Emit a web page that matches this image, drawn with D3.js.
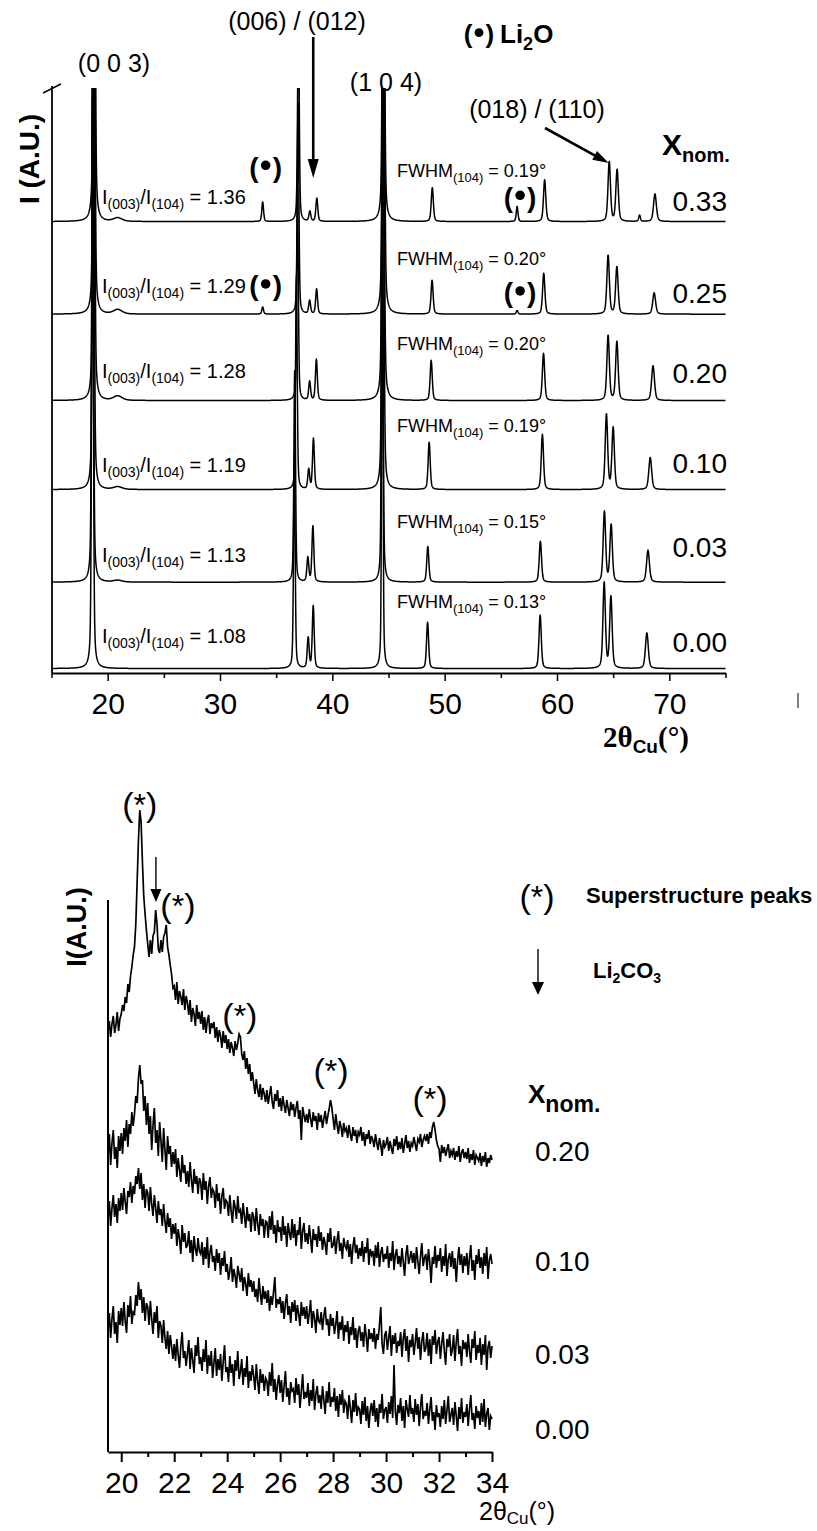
<!DOCTYPE html>
<html>
<head>
<meta charset="utf-8">
<script src="https://cdn.jsdelivr.net/npm/d3@7.9.0/dist/d3.min.js"></script>
<style>
  html, body { margin: 0; padding: 0; background: #fff; }
  svg { display: block; }
  text { font-family: "Liberation Sans", Arial, sans-serif; fill: #000; white-space: pre; }
</style>
</head>
<body>
<div id="chart"></div>
<script>
const SANS = '"Liberation Sans", Arial, sans-serif';
const SERIF = '"Liberation Serif", "Times New Roman", serif';

// ---------- top panel: wide XRD scans, stacked ----------
const topSamples = ['0.33', '0.25', '0.20', '0.10', '0.03', '0.00'];
const topOffsets = [5.07, 4.03, 3.06, 2.06, 1.02, 0.05];       // stacking offset (a.u.)
const ratio003 = [1.36, 1.29, 1.28, 1.19, 1.13, 1.08];           // I(003)/I(104)
const fwhm104 = [0.19, 0.20, 0.20, 0.19, 0.15, 0.13];            // degrees
const i104 = 6.0;                                                // height of (104), a.u.
const reflections = ['003', '101', '006', '012', '104', '015', '107', '018', '110', '113'];
const reflWidth = [0.17, 0.17, 0.2, 0.2, null, 0.22, 0.24, 0.26, 0.26, 0.3];
const peakPos = [
  [18.80, 36.98, 38.00, 38.62, 44.55, 48.90, 58.90, 64.65, 65.35, 68.72],
  [18.78, 36.95, 37.98, 38.60, 44.55, 48.88, 58.82, 64.55, 65.33, 68.65],
  [18.76, 36.90, 37.98, 38.58, 44.52, 48.80, 58.80, 64.55, 65.33, 68.55],
  [18.72, 36.80, 37.90, 38.32, 44.50, 48.62, 58.70, 64.40, 65.00, 68.30],
  [18.66, 36.65, 37.82, 38.27, 44.45, 48.50, 58.52, 64.22, 64.82, 68.10],
  [18.65, 36.62, 37.85, 38.30, 44.45, 48.48, 58.50, 64.20, 64.80, 68.00],
];
// null -> (003) from the ratio, (104) = i104
const peakHeight = [
  [null, 2.4, 0.11, 0.26, null, 0.38, 0.47, 0.67, 0.58, 0.31],
  [null, 2.4, 0.15, 0.28, null, 0.38, 0.46, 0.66, 0.53, 0.24],
  [null, 2.4, 0.21, 0.46, null, 0.45, 0.53, 0.73, 0.66, 0.39],
  [null, 2.4, 0.22, 0.57, null, 0.53, 0.62, 0.84, 0.69, 0.36],
  [null, 2.4, 0.27, 0.63, null, 0.40, 0.46, 0.79, 0.64, 0.36],
  [null, 2.4, 0.34, 0.70, null, 0.52, 0.60, 0.96, 0.80, 0.40],
];
const li2oPos = [33.8, 56.45, 67.35];
const li2oHeight = [
  [0.22, 0.17, 0.07], [0.08, 0.04, 0], [0, 0, 0], [0, 0, 0], [0, 0, 0], [0, 0, 0],
];
const humpPos = 20.9;
const humpHeight = [0.04, 0.05, 0.05, 0.03, 0.02, 0];

// ---------- bottom panel: slow scans 19.5-34 deg, step 0.05 ----------
const bottomSamples = ['0.20', '0.10', '0.03', '0.00'];
const bottomStart = 19.5, bottomStep = 0.05;
const scan020 = [
422,431,415,428,436,419,427,440,421,433,
438,447,441,455,449,468,460,476,485,497,
505,528,570,612,642,630,590,556,538,522,
508,495,512,498,516,520,542,528,503,499,
512,500,515,519,527,505,497,487,478,464,
466,452,470,448,461,455,447,463,442,456,
449,437,452,430,444,438,426,447,433,440,
428,441,422,435,419,431,437,418,429,424,
430,414,425,410,422,416,404,421,409,417,
403,413,399,410,404,396,411,402,409,418,
415,398,392,401,383,394,378,388,371,380,
369,358,373,362,355,368,352,364,358,350,
362,348,357,366,350,343,358,351,362,345,
354,341,356,347,339,352,344,336,350,342,
348,335,344,351,333,342,312,345,337,330,
338,329,343,333,325,340,331,336,322,339,
330,337,324,333,341,328,336,343,352,345,
333,322,338,327,318,331,325,315,329,321,
324,314,327,318,311,325,316,322,309,320,
317,325,311,320,306,318,313,322,308,316,
312,305,318,309,302,314,307,296,312,305,
308,315,301,311,304,298,313,306,316,302,
310,303,314,299,308,317,304,311,300,309,
306,315,308,301,313,310,318,305,312,316,
311,318,308,320,314,325,330,322,312,306,
303,290,307,299,305,296,302,308,294,301,
297,304,292,301,295,306,290,299,303,294,
300,293,304,289,298,292,302,287,297,294,
291,299,286,296,290,300,285,294,289,297,
292];
const scan010 = [
296,318,287,309,322,293,305,284,316,301,
319,298,324,311,332,305,328,318,340,326,
338,356,349,374,387,368,372,341,356,327,
349,318,336,302,327,344,309,322,296,330,
311,290,324,302,282,316,298,306,285,300,
288,303,275,294,282,270,297,279,287,268,
281,265,290,272,259,283,268,276,258,274,
270,252,279,262,271,248,266,275,254,263,
260,244,268,251,259,238,256,264,243,252,
250,236,257,241,229,252,245,233,256,239,
242,228,249,236,224,245,231,238,220,240,
235,221,244,228,217,238,226,233,214,231,
230,214,236,222,241,218,227,209,232,220,
225,211,236,217,226,205,229,219,212,233,
214,228,206,222,217,235,203,221,229,210,
219,208,227,214,199,223,212,218,205,226,
211,220,202,215,208,197,219,210,224,204,
207,216,198,212,221,201,209,193,214,206,
203,212,195,208,188,206,215,199,207,193,
204,196,211,190,205,199,214,187,203,197,
201,186,207,194,210,185,199,205,190,198,
193,206,184,199,191,211,182,197,203,188,
196,185,204,190,176,198,207,188,194,201,
189,199,183,205,191,178,196,209,186,194,
198,182,203,190,169,195,188,206,184,197,
191,204,180,196,186,208,176,193,199,185,
201,183,194,170,191,205,187,198,179,196,
186,199,177,194,207,181,192,172,197,188,
203,184,195,178,199,186,205,173,192,198,
188];
const scan003 = [
232,251,226,244,257,235,248,229,254,241,
259,242,264,250,238,261,255,270,249,266,
258,276,268,284,263,279,252,268,244,263,
259,241,265,248,236,257,244,229,251,237,
243,226,248,231,219,239,225,234,213,228,
218,229,206,223,213,198,227,210,219,204,
207,221,199,212,190,216,203,196,214,201,
198,210,187,205,193,215,184,200,207,190,
196,181,203,189,199,177,194,186,201,180,
188,172,181,195,170,183,176,164,186,178,
170,184,161,175,168,156,179,165,172,160,
171,155,163,150,174,159,147,166,153,161,
149,162,141,156,147,160,175,144,153,148,
155,139,151,133,149,158,137,146,129,150,
140,152,131,147,138,126,150,136,145,133,
146,128,139,152,124,141,134,119,143,131,
129,140,122,136,145,127,133,116,138,126,
134,118,128,141,113,130,122,136,111,127,
120,131,108,125,117,135,112,124,104,121,
126,111,120,105,128,116,100,123,113,119,
110,124,103,118,112,127,145,108,98,117,
121,102,114,126,96,117,108,119,99,111,
106,120,95,114,123,101,116,90,112,105,
118,97,109,124,103,115,92,111,120,100,
104,119,96,113,88,116,107,122,98,110,
115,93,108,120,101,87,113,105,118,96,
102,117,91,110,123,98,106,86,112,103,
110,95,118,101,89,113,104,121,92,107,
99,114,87,108,97,117,82,105,111,94,
106];
const scan000 = [
121,139,114,133,146,118,130,109,141,127,
144,126,150,131,119,147,135,156,128,140,
138,157,146,170,152,163,139,155,131,149,
145,127,151,133,118,140,129,146,114,131,
126,109,132,114,103,121,98,117,106,93,
108,91,113,97,84,106,120,94,101,86,
99,112,83,104,92,79,107,96,115,88,
95,81,103,90,112,78,97,86,101,74,
89,104,76,93,82,98,71,90,107,80,
85,70,96,79,88,66,92,81,101,73,
80,93,67,84,75,96,64,81,71,87,
76,62,88,71,58,83,69,78,61,74,
71,56,80,66,89,60,73,52,68,77,
59,72,50,66,81,55,64,47,70,61,
63,49,74,57,68,44,61,78,53,60,
54,69,46,62,51,73,42,58,66,49,
57,43,66,52,38,61,49,70,45,55,
50,64,41,56,35,58,47,62,39,51,
48,33,57,44,29,52,40,59,36,45,
43,28,51,37,55,31,46,24,41,49,
36,52,30,44,25,48,39,58,33,42,
45,29,50,38,56,34,87,41,27,47,
39,54,31,46,24,52,43,35,57,38,
44,30,53,37,48,26,45,58,33,41,
36,49,28,43,55,31,40,22,47,35,
39,25,46,33,52,28,42,56,30,37,
44,27,50,36,21,45,33,54,29,40,
35,48,26,43,57,32,39,23,46,34,
41,27,49,30,53,25,38,44,22,36,
33];
const bottomScans = [scan020, scan010, scan003, scan000];
const superPeaks = [20.7, 22.14, 24.48, 27.92, 31.66];   // (*) marks
const li2co3Peak = 21.31;

// label layout (baselines, px)
const topValueY = [211, 303, 383, 473, 557, 652];
const topRatioY = [204, 293, 378, 472, 562, 643];
const topFwhmY = [177, 265, 350, 432, 528, 608];
const bottomValueY = [1161, 1271, 1364, 1439];
const superLabelY = [816, 917, 1027, 1082, 1110];

// ---------- svg ----------
const width = 817, height = 1531;
const svg = d3.select('#chart').append('svg')
  .attr('width', width).attr('height', height)
  .attr('viewBox', `0 0 ${width} ${height}`);
svg.append('rect').attr('width', width).attr('height', height).attr('fill', '#fff');

function richText(parent, x, y, parts, anchor) {
  const t = parent.append('text').attr('x', x).attr('y', y)
    .attr('text-anchor', anchor || 'start');
  let shift = 0;
  for (const p of parts) {
    const s = p.shift || 0;
    t.append('tspan')
      .attr('dy', s - shift)
      .attr('font-size', p.size)
      .attr('font-weight', p.bold ? 'bold' : 'normal')
      .attr('font-family', p.serif ? SERIF : SANS)
      .text(p.text);
    shift = s;
  }
  return t;
}

function arrow(parent, x1, y1, x2, y2, headLen, headW, sw) {
  const dx = x2 - x1, dy = y2 - y1, L = Math.hypot(dx, dy);
  const ux = dx / L, uy = dy / L;
  const bx = x2 - ux * headLen, by = y2 - uy * headLen;
  parent.append('line').attr('x1', x1).attr('y1', y1).attr('x2', bx + ux).attr('y2', by + uy)
    .attr('stroke', '#000').attr('stroke-width', sw);
  parent.append('path')
    .attr('d', `M${x2},${y2}L${bx - uy * headW / 2},${by + ux * headW / 2}L${bx + uy * headW / 2},${by - ux * headW / 2}Z`)
    .attr('fill', '#000');
}

// "(•)" marker: bold serif parentheses with a big dot
function dotMark(parent, cx, baseline, size) {
  parent.append('text').attr('x', cx).attr('y', baseline).attr('text-anchor', 'middle')
    .attr('font-family', SERIF).attr('font-weight', 'bold').attr('font-size', size)
    .text('(\u2002)');
  parent.append('circle').attr('cx', cx).attr('cy', baseline - size * 0.4)
    .attr('r', size * 0.17).attr('fill', '#000');
}

// ================= TOP PANEL =================
const xTop = d3.scaleLinear().domain([15, 75]).range([51.5, 725.5]);
const yTop = d3.scaleLinear().domain([0, 6.57]).range([673, 88]);

const eta = 0.4;
function pv(t, x0, h, w) {
  const u = (t - x0) / w;
  return h * (eta / (1 + 4 * u * u) + (1 - eta) * Math.exp(-4 * Math.LN2 * u * u));
}

const grid = d3.range(15, 75.0001, 0.02);
const topPatterns = topSamples.map((s, i) => {
  const peaks = reflections.map((r, j) => {
    let h = peakHeight[i][j];
    if (r === '104') h = i104;
    if (r === '003') h = i104 * ratio003[i];
    const w = r === '104' ? fwhm104[i] : reflWidth[j];
    return { pos: peakPos[i][j], h, w };
  });
  li2oPos.forEach((p, k) => { if (li2oHeight[i][k] > 0) peaks.push({ pos: p, h: li2oHeight[i][k], w: 0.18 }); });
  if (humpHeight[i] > 0) peaks.push({ pos: humpPos, h: humpHeight[i], w: 0.9 });
  return grid.map(t => [t, topOffsets[i] + d3.sum(peaks, p => pv(t, p.pos, p.h, p.w))]);
});

svg.append('clipPath').attr('id', 'clipTop')
  .append('rect').attr('x', 50).attr('y', 88).attr('width', 680).attr('height', 600);

const lineTop = d3.line().x(d => xTop(d[0])).y(d => yTop(d[1]));
svg.append('g').attr('clip-path', 'url(#clipTop)')
  .selectAll('path').data(topPatterns).join('path')
  .attr('d', lineTop)
  .attr('fill', 'none').attr('stroke', '#000').attr('stroke-width', 1.5)
  .attr('stroke-linejoin', 'round');

// axes
const gxTop = svg.append('g').attr('transform', `translate(0,${yTop(0)})`)
  .call(d3.axisBottom(xTop).tickValues(d3.range(20, 71, 10)).tickSize(8)
    .tickSizeOuter(0).tickPadding(12).tickFormat(d3.format('d')))
  .attr('font-family', SANS).attr('font-size', 30);
gxTop.select('.domain').attr('stroke-width', 2);
gxTop.selectAll('.tick line').attr('stroke-width', 1.5);
gxTop.selectAll('.tick text').attr('fill', '#000');
const gxTopMinor = svg.append('g').attr('transform', `translate(0,${yTop(0)})`)
  .call(d3.axisBottom(xTop).tickValues(d3.range(15, 76, 10)).tickSize(5).tickFormat(''));
gxTopMinor.select('.domain').remove();
gxTopMinor.selectAll('.tick line').attr('stroke-width', 1.5);

svg.append('line').attr('x1', 52).attr('x2', 52).attr('y1', 86).attr('y2', yTop(0))
  .attr('stroke', '#000').attr('stroke-width', 1.8);
svg.append('path').attr('d', 'M43,93L61,84').attr('stroke', '#000').attr('stroke-width', 1.5).attr('fill', 'none');

svg.append('text').attr('transform', 'translate(39,159) rotate(-90)')
  .attr('text-anchor', 'middle').attr('font-size', 28).attr('font-weight', 'bold')
  .text('I (A.U.)');

richText(svg, 603, 747, [
  { text: '2θ', size: 29, bold: true, serif: true },
  { text: 'Cu', size: 19, bold: true, shift: 6 },
  { text: '(°)', size: 29, bold: true, serif: true, shift: 0 },
]);

// hkl annotations
svg.append('text').attr('x', 114).attr('y', 72).attr('text-anchor', 'middle').attr('font-size', 25).text('(0 0 3)');
svg.append('text').attr('x', 297).attr('y', 30).attr('text-anchor', 'middle').attr('font-size', 25).text('(006) / (012)');
svg.append('text').attr('x', 386).attr('y', 91).attr('text-anchor', 'middle').attr('font-size', 25).text('(1 0 4)');
svg.append('text').attr('x', 537).attr('y', 118).attr('text-anchor', 'middle').attr('font-size', 25).text('(018) / (110)');
arrow(svg, xTop(38.3), 37, xTop(38.3), 178, 19, 11, 2.6);
arrow(svg, 545, 128, xTop(64.6), 163, 16, 10, 2.6);

dotMark(svg, 479, 43, 26);
richText(svg, 500, 43, [
  { text: 'Li', size: 26, bold: true },
  { text: '2', size: 18, bold: true, shift: 7 },
  { text: 'O', size: 26, bold: true, shift: 0 },
]);

// Li2O markers
[[0, 0, 45], [1, 0, 19], [0, 1, 15], [1, 1, 12]].forEach(([i, k, dy]) => {
  dotMark(svg, xTop(li2oPos[k]) + 3, yTop(topOffsets[i]) - dy, 28);
});

richText(svg, 662, 155, [
  { text: 'X', size: 30, bold: true },
  { text: 'nom.', size: 20, bold: true, shift: 7 },
]);

topSamples.forEach((s, i) => {
  svg.append('text').attr('x', 727).attr('y', topValueY[i]).attr('text-anchor', 'end')
    .attr('font-size', 28).text(s);
  richText(svg, 102, topRatioY[i], [
    { text: 'I', size: 20 },
    { text: '(003)', size: 14, shift: 5 },
    { text: '/I', size: 20, shift: 0 },
    { text: '(104)', size: 14, shift: 5 },
    { text: ' = ' + ratio003[i].toFixed(2), size: 20, shift: 0 },
  ]);
  richText(svg, 397, topFwhmY[i], [
    { text: 'FWHM', size: 18 },
    { text: '(104)', size: 13, shift: 5 },
    { text: ' = ' + fwhm104[i].toFixed(2) + '°', size: 18, shift: 0 },
  ]);
});

svg.append('line').attr('x1', 798).attr('x2', 798).attr('y1', 693).attr('y2', 708)
  .attr('stroke', '#555').attr('stroke-width', 1.5);

// ================= BOTTOM PANEL =================
const xBot = d3.scaleLinear().domain([19.5, 34]).range([108, 492]);
const yBot = d3.scaleLinear().domain([0, 662]).range([1452, 790]);

const lineBot = d3.line().x((d, j) => xBot(bottomStart + j * bottomStep)).y(d => yBot(d));
svg.append('g').selectAll('path').data(bottomScans).join('path')
  .attr('d', lineBot)
  .attr('fill', 'none').attr('stroke', '#000').attr('stroke-width', 1.7)
  .attr('stroke-linejoin', 'miter');

const gxBot = svg.append('g').attr('transform', `translate(0,${yBot(0)})`)
  .call(d3.axisBottom(xBot).tickValues(d3.range(20, 35, 2)).tickSize(10)
    .tickSizeOuter(0).tickPadding(9.7).tickFormat(d3.format('d')))
  .attr('font-family', SANS).attr('font-size', 30);
gxBot.select('.domain').attr('stroke-width', 2);
gxBot.selectAll('.tick line').attr('stroke-width', 2);
gxBot.selectAll('.tick text').attr('fill', '#000');
const gxBotMinor = svg.append('g').attr('transform', `translate(0,${yBot(0)})`)
  .call(d3.axisBottom(xBot).tickValues(d3.range(21, 34, 2)).tickSize(5).tickFormat(''));
gxBotMinor.select('.domain').remove();
gxBotMinor.selectAll('.tick line').attr('stroke-width', 2);

svg.append('line').attr('x1', 108).attr('x2', 108).attr('y1', 900).attr('y2', yBot(0))
  .attr('stroke', '#000').attr('stroke-width', 2);

svg.append('text').attr('transform', 'translate(86,927) rotate(-90)')
  .attr('text-anchor', 'middle').attr('font-size', 27).attr('font-weight', 'bold')
  .text('I(A.U.)');

richText(svg, 479, 1520, [
  { text: '2θ', size: 25 },
  { text: 'Cu', size: 17, shift: 4 },
  { text: '(°)', size: 25, shift: 0 },
]);

superPeaks.forEach((p, k) => {
  richText(svg, xBot(p), superLabelY[k], [
    { text: '(', size: 34 },
    { text: '*', size: 32 },
    { text: ')', size: 34 },
  ], 'middle');
});
arrow(svg, xBot(li2co3Peak), 857, xBot(li2co3Peak), 902, 13, 11, 1.4);

// legend
richText(svg, 537, 908, [
  { text: '(', size: 34 },
  { text: '*', size: 32 },
  { text: ')', size: 34 },
], 'middle');
svg.append('text').attr('x', 586).attr('y', 903).attr('font-size', 22).attr('font-weight', 'bold')
  .text('Superstructure peaks');
arrow(svg, 538, 949, 538, 995, 13, 12, 1.4);
richText(svg, 593, 978, [
  { text: 'Li', size: 22, bold: true },
  { text: '2', size: 14, bold: true, shift: 5 },
  { text: 'CO', size: 22, bold: true, shift: 0 },
  { text: '3', size: 14, bold: true, shift: 5 },
]);

richText(svg, 528, 1103, [
  { text: 'X', size: 26, bold: true },
  { text: 'nom.', size: 23, bold: true, shift: 9 },
]);
bottomSamples.forEach((s, i) => {
  svg.append('text').attr('x', 535).attr('y', bottomValueY[i]).attr('font-size', 28).text(s);
});
</script>
</body>
</html>
